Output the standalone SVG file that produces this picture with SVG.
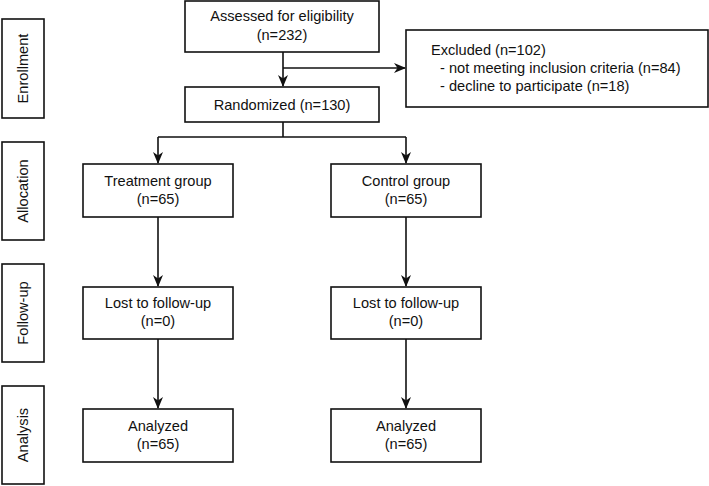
<svg xmlns="http://www.w3.org/2000/svg" width="709" height="486" viewBox="0 0 709 486">
<style>
.box{fill:#fff;stroke:#111;stroke-width:1.6}
.t{font-family:"Liberation Sans",Arial,sans-serif;font-size:14.6px;fill:#111}
.c{text-anchor:middle}
.ln{fill:none;stroke:#111;stroke-width:1.6}
</style>
<defs>
<marker id="ah" viewBox="0 0 12 10" refX="11" refY="5" markerWidth="12" markerHeight="11" markerUnits="userSpaceOnUse" orient="auto">
<path d="M0,0 L12,5 L0,10 L3.5,5 Z" fill="#111"/>
</marker>
</defs>
<g id="stage-enrollment"><rect class="box" x="2" y="19" width="42" height="99"/><text class="t c" transform="translate(28,68.5) rotate(-90)">Enrollment</text></g>
<g id="stage-allocation"><rect class="box" x="2" y="142" width="42" height="98"/><text class="t c" transform="translate(28,191) rotate(-90)">Allocation</text></g>
<g id="stage-followup"><rect class="box" x="2" y="264" width="42" height="98"/><text class="t c" transform="translate(28,313) rotate(-90)">Follow-up</text></g>
<g id="stage-analysis"><rect class="box" x="2" y="386" width="42" height="98"/><text class="t c" transform="translate(28,435) rotate(-90)">Analysis</text></g>
<g id="connectors">
<path class="ln" d="M283,52 V86" marker-end="url(#ah)"/>
<path class="ln" d="M283,68 H405" marker-end="url(#ah)"/>
<path class="ln" d="M283,122 V137 M158,137 H406"/>
<path class="ln" d="M158,137 V163" marker-end="url(#ah)"/>
<path class="ln" d="M406,137 V163" marker-end="url(#ah)"/>
<path class="ln" d="M158,217 V286" marker-end="url(#ah)"/>
<path class="ln" d="M406,217 V286" marker-end="url(#ah)"/>
<path class="ln" d="M158,339 V408" marker-end="url(#ah)"/>
<path class="ln" d="M406,339 V408" marker-end="url(#ah)"/>
</g>
<g id="assessed"><rect class="box" x="185" y="1" width="194" height="51"/><text class="t c" x="282" y="21">Assessed for eligibility</text><text class="t c" x="282" y="39.5">(n=232)</text></g>
<g id="excluded"><rect class="box" x="406" y="30" width="302" height="77"/><text class="t" x="431" y="55">Excluded (n=102)</text><text class="t" x="440" y="73">- not meeting inclusion criteria (n=84)</text><text class="t" x="440" y="90.5">- decline to participate (n=18)</text></g>
<g id="randomized"><rect class="box" x="185" y="87" width="194" height="35"/><text class="t c" x="282" y="110">Randomized (n=130)</text></g>
<g id="treatment"><rect class="box" x="83" y="164" width="150" height="53"/><text class="t c" x="158" y="186">Treatment group</text><text class="t c" x="158" y="204">(n=65)</text></g>
<g id="control"><rect class="box" x="331" y="164" width="150" height="53"/><text class="t c" x="406" y="186">Control group</text><text class="t c" x="406" y="204">(n=65)</text></g>
<g id="lost-treatment"><rect class="box" x="83" y="287" width="150" height="52"/><text class="t c" x="158" y="308">Lost to follow-up</text><text class="t c" x="158" y="326">(n=0)</text></g>
<g id="lost-control"><rect class="box" x="331" y="287" width="150" height="52"/><text class="t c" x="406" y="308">Lost to follow-up</text><text class="t c" x="406" y="326">(n=0)</text></g>
<g id="analyzed-treatment"><rect class="box" x="83" y="409" width="150" height="53"/><text class="t c" x="158" y="431">Analyzed</text><text class="t c" x="158" y="449">(n=65)</text></g>
<g id="analyzed-control"><rect class="box" x="331" y="409" width="150" height="53"/><text class="t c" x="406" y="431">Analyzed</text><text class="t c" x="406" y="449">(n=65)</text></g>
</svg>
